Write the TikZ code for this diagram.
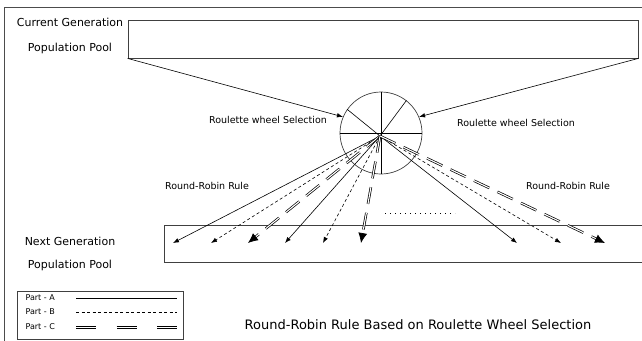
\documentclass[tikz,border=0pt]{standalone}
\usepackage{fontspec}
\setmainfont{DejaVu Sans}
\usetikzlibrary{arrows.meta}
\tikzset{
  pool/.style={draw=black!75, line width=0.8pt, inner sep=0pt},
  bigtext/.style={font=\fontsize{11}{13}\selectfont},
  smalltext/.style={font=\fontsize{9.5}{11}\selectfont},
  keytext/.style={font=\fontsize{8}{10}\selectfont, anchor=west},
  parta/.style={-{Latex[length=6pt,width=4.5pt]}, line width=0.6pt},
  partb/.style={parta, dash pattern=on 3pt off 2.5pt},
  doubleline/.style={line width=0.7pt, double, double distance=1.1pt},
  partc/.style={-{Latex[length=10pt,width=9pt]}, doubleline, dash pattern=on 17pt off 9pt},
}
\begin{document}
\begin{tikzpicture}[x=1pt,y=-1pt]
  \useasboundingbox (0,0) rectangle (642,340);
  % outer frame
  \draw[draw=black!70, line width=0.8pt] (4,350) -- (4,7) -- (650,7);

  % pools
  \node[pool, minimum width=510pt, minimum height=38pt] (cur) at (383,39) {};
  \node[pool, minimum width=486pt, minimum height=37pt] (nxt) at (407,243.5) {};
  \node[bigtext] (curA) at (70,22) {Current Generation};
  \node[bigtext] (curB) at (70,48) {Population Pool};
  \node[bigtext] (nxtA) at (70,241) {Next Generation};
  \node[bigtext] (nxtB) at (70,265) {Population Pool};

  % roulette wheel
  \node[draw=black!75, line width=0.7pt, circle, minimum size=82pt, inner sep=0pt] (wheel) at (381,133) {};
  \coordinate (hub) at (380,136);
  \draw[line width=0.6pt] (wheel.north) -- (wheel.south);
  \draw[line width=0.6pt] (wheel.west) -- (wheel.east);
  \draw[line width=0.6pt] (hub) -- (wheel.145);
  \draw[line width=0.6pt] (hub) -- (wheel.52);
  \draw[parta] (cur.south west) -- (wheel.157);
  \draw[parta] (cur.south east) -- (wheel.23);
  \node[smalltext] (selL) at (268,120) {Roulette wheel Selection};
  \node[smalltext] (selR) at (516,123) {Roulette wheel Selection};
  \node[smalltext] (rrL) at (207,186) {Round-Robin Rule};
  \node[smalltext] (rrR) at (568,186) {Round-Robin Rule};

  % arrow ends in next pool
  \coordinate (a1) at (173,243);
  \coordinate (b1) at (211,243);
  \coordinate (c1) at (248,243);
  \coordinate (a2) at (285,243);
  \coordinate (b2) at (323,243);
  \coordinate (c2) at (361,243);
  \coordinate (a3) at (517,243);
  \coordinate (b3) at (561,243);
  \coordinate (c3) at (605,243);
  \draw[parta] (hub) -- (a1);
  \draw[partb] (hub) -- (b1);
  \draw[partc] (hub) -- (c1);
  \draw[parta] (hub) -- (a2);
  \draw[partb] (hub) -- (b2);
  \draw[partc] (hub) -- (c2);
  \draw[parta] (hub) -- (a3);
  \draw[partb] (hub) -- (b3);
  \draw[partc] (hub) -- (c3);
  \draw[line width=0.7pt, dash pattern=on 1pt off 4pt] (385,213) -- (455,213);

  % legend
  \node[pool, line width=0.7pt, minimum width=166pt, minimum height=48pt] (key) at (100,315) {};
  \node[keytext] (keyA) at (22,298) {Part - A};
  \node[keytext] (keyB) at (22,312) {Part - B};
  \node[keytext] (keyC) at (22,327) {Part - C};
  \draw[line width=0.6pt] (76,298) -- (177,298);
  \draw[line width=0.6pt, dash pattern=on 3pt off 2.5pt] (76,312) -- (177,312);
  \draw[doubleline, dash pattern=on 20pt off 20.5pt] (76,327.5) -- (177,327.5);

  \node[font=\fontsize{13}{15}\selectfont] (cap) at (418,325) {Round-Robin Rule Based on Roulette Wheel Selection};
\end{tikzpicture}
\end{document}
